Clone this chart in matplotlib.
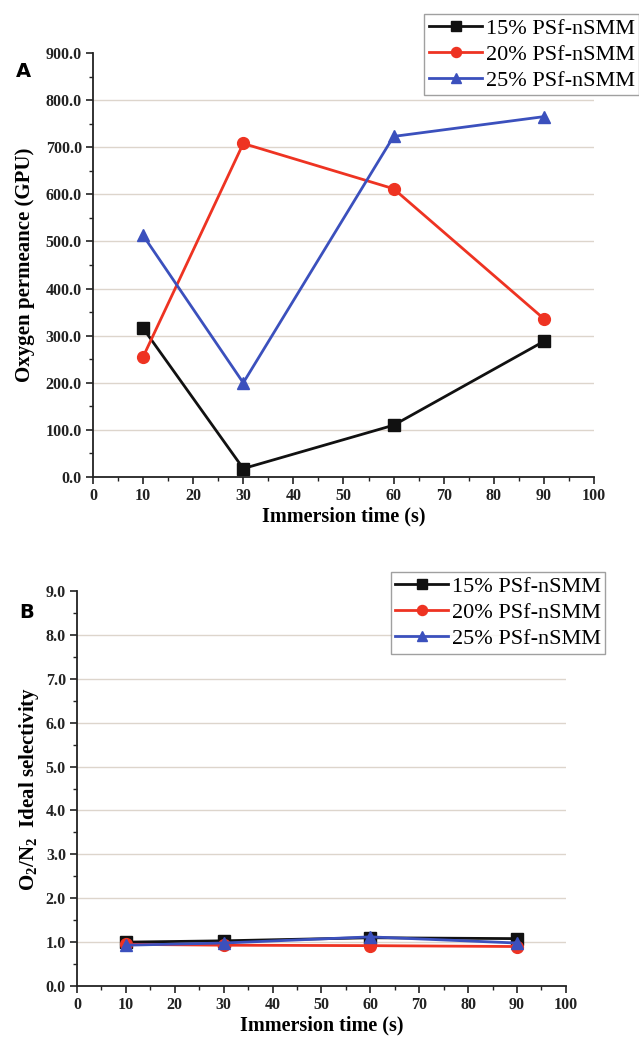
import matplotlib
matplotlib.use("Agg")
import matplotlib.pyplot as plt
from matplotlib.ticker import MultipleLocator, FormatStrFormatter

# data
time_s = [10, 30, 60, 90]
series_labels = ["15% PSf-nSMM", "20% PSf-nSMM", "25% PSf-nSMM"]
perm_15 = [316, 18, 110, 288]
perm_20 = [255, 708, 612, 336]
perm_25 = [513, 200, 723, 765]
sel_15 = [1.00, 1.03, 1.10, 1.08]
sel_20 = [0.95, 0.93, 0.92, 0.90]
sel_25 = [0.93, 0.98, 1.12, 0.98]

colors = ["#111111", "#ee3322", "#3b50bd"]
markers = ["s", "o", "^"]

plt.rcParams["font.family"] = ["Liberation Serif", "DejaVu Serif"]
plt.rcParams["font.weight"] = "bold"
plt.rcParams["mathtext.fontset"] = "custom"
plt.rcParams["mathtext.bf"] = "Liberation Serif:bold"
plt.rcParams["mathtext.rm"] = "Liberation Serif:bold"

fig = plt.figure(figsize=(6.39, 10.4), dpi=100)
axA = fig.add_axes([0.1455, 0.5413, 0.784, 0.4077])
axB = fig.add_axes([0.1205, 0.0519, 0.765, 0.3798])


def style_axis(ax, ymax, ystep, yminor):
    ax.set_xlim(0, 100)
    ax.set_ylim(0, ymax)
    ax.xaxis.set_major_locator(MultipleLocator(10))
    ax.xaxis.set_minor_locator(MultipleLocator(5))
    ax.yaxis.set_major_locator(MultipleLocator(ystep))
    ax.yaxis.set_minor_locator(MultipleLocator(yminor))
    ax.yaxis.set_major_formatter(FormatStrFormatter("%.1f"))
    for s in ["top", "right"]:
        ax.spines[s].set_visible(False)
    for s in ["left", "bottom"]:
        ax.spines[s].set_linewidth(1.3)
        ax.spines[s].set_color("#222222")
    ax.tick_params(which="major", direction="out", length=5, width=1.2,
                   labelsize=11.5, colors="#222222", pad=3)
    ax.tick_params(which="minor", direction="out", length=3, width=1.0,
                   colors="#222222")
    for t in ax.get_xticklabels() + ax.get_yticklabels():
        t.set_fontweight("bold")
    for v in range(1, int(round(ymax / ystep))):
        ax.axhline(v * ystep, color="#ddd5cc", lw=1.0, zorder=0)
    ax.set_xlabel("Immersion time (s)", fontsize=14.5, fontweight="bold",
                  labelpad=2)


def add_legend(ax, anchor):
    leg = ax.legend(loc="upper right", bbox_to_anchor=anchor,
                    bbox_transform=fig.transFigure, fontsize=16, frameon=True,
                    fancybox=False, edgecolor="#888888", handlelength=2.4,
                    handletextpad=0.15, borderpad=0.2, labelspacing=0.25,
                    borderaxespad=0, markerscale=0.85)
    leg.get_frame().set_linewidth(1.0)
    for t in leg.get_texts():
        t.set_fontweight("normal")
    return leg


for ys, lab, c, m in zip([perm_15, perm_20, perm_25], series_labels, colors, markers):
    axA.plot(time_s, ys, color=c, marker=m, markersize=8.5, lw=2.0, label=lab,
             clip_on=False)
style_axis(axA, 900, 100, 50)
axA.set_ylabel("Oxygen permeance (GPU)", fontsize=15, fontweight="bold",
               labelpad=8)
add_legend(axA, (1.0, 0.987))

for ys, lab, c, m in zip([sel_15, sel_20, sel_25], series_labels, colors, markers):
    axB.plot(time_s, ys, color=c, marker=m, markersize=8.5, lw=2.0, label=lab,
             clip_on=False)
style_axis(axB, 9, 1, 0.5)
axB.set_ylabel("O$_{2}$/N$_{2}$  Ideal selectivity", fontsize=15,
               fontweight="bold", labelpad=3)
add_legend(axB, (0.947, 0.45))

fig.text(0.025, 0.926, "A", fontsize=14, fontweight="bold", family="DejaVu Sans")
fig.text(0.03, 0.406, "B", fontsize=14, fontweight="bold", family="DejaVu Sans")

fig.savefig("out.png", dpi=100)
